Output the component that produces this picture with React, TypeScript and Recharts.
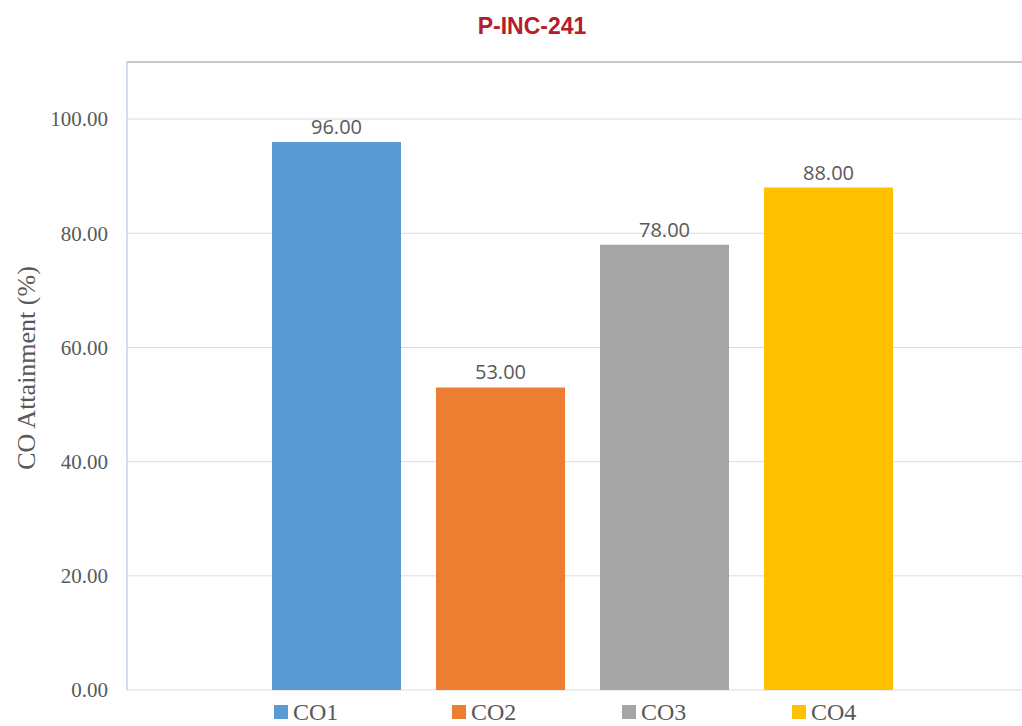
import React from "react";
import {
  BarChart,
  Bar,
  XAxis,
  YAxis,
  CartesianGrid,
  ReferenceLine,
  LabelList,
  Label,
} from "recharts";

const seriesNames = ["CO1", "CO2", "CO3", "CO4"];
const seriesValues = [96, 53, 78, 88];
const seriesColors = ["#5B9BD5", "#ED7D31", "#A5A5A5", "#FFC000"];
const yTicks = [0, 20, 40, 60, 80, 100];
const yMax = 110;
const yTitle = "CO Attainment (%)";

const row: Record<string, number | string> = { name: "" };
seriesNames.forEach((n, i) => {
  row[n] = seriesValues[i];
});
const data = [row];

const SerifTick = (props: any) => {
  const { x, y, payload } = props;
  return (
    <text
      x={x}
      y={y}
      textAnchor="end"
      dy="0.35em"
      style={{
        fill: "#595959",
        fontFamily: "'Liberation Serif', serif",
        fontSize: 21,
      }}
    >
      {Number(payload.value).toFixed(2)}
    </text>
  );
};

// rotated axis title, a little above the plot's middle like the original
const YTitle = (props: any) => {
  const vb = props.viewBox || {};
  const cx = vb.x + 26;
  const cy = vb.y + vb.height / 2 - 8;
  return (
    <text
      x={cx}
      y={cy}
      transform={`rotate(-90, ${cx}, ${cy})`}
      textAnchor="middle"
      dominantBaseline="central"
      style={{
        fill: "#595959",
        fontFamily: "'Liberation Serif', serif",
        fontSize: 26,
      }}
    >
      {yTitle}
    </text>
  );
};

export default function App() {
  return (
    <div
      style={{
        position: "fixed",
        left: 0,
        top: 0,
        width: 1022,
        height: 726,
        overflow: "hidden",
        background: "#ffffff",
      }}
    >
      <div
        style={{
          position: "absolute",
          left: 0,
          top: 15,
          width: 1064,
          textAlign: "center",
          fontFamily: "'Liberation Sans', Arial, sans-serif",
          fontWeight: "bold",
          fontSize: 23,
          lineHeight: "23px",
          color: "#B3202A",
        }}
      >
        P-INC-241
      </div>
      <div style={{ position: "absolute", left: 0, top: 0 }}>
        <BarChart
          width={1060}
          height={726}
          data={data}
          margin={{ top: 62, right: 23, left: 0, bottom: 36 }}
          barSize={129}
          barGap={35}
        >
          <CartesianGrid vertical={false} stroke="#DCDCDC" />
          <ReferenceLine y={yMax} stroke="#B4BCC6" strokeWidth={1.5} />
          <XAxis
            dataKey="name"
            height={0}
            tick={false}
            tickLine={false}
            axisLine={{ stroke: "#A9B9CE" }}
          />
          <YAxis
            width={127}
            domain={[0, yMax]}
            ticks={yTicks}
            tickLine={false}
            tickMargin={13}
            axisLine={{ stroke: "#A7BFDA" }}
            tick={(p: any) => <SerifTick {...p} />}
          >
            <Label content={(p: any) => <YTitle {...p} />} />
          </YAxis>
          {seriesNames.map((n, i) => (
            <Bar
              key={n}
              dataKey={n}
              fill={seriesColors[i]}
              isAnimationActive={false}
            >
              <LabelList
                dataKey={n}
                position="top"
                offset={8}
                formatter={(v: any) => Number(v).toFixed(2)}
                style={{
                  fill: "#595959",
                  fontFamily: "'Open Sans', sans-serif",
                  fontSize: 20,
                }}
              />
            </Bar>
          ))}
        </BarChart>
      </div>
      <div
        style={{
          position: "absolute",
          left: 274,
          top: 700,
          display: "flex",
          height: 24,
        }}
      >
        {seriesNames.map((n, i) => (
          <div
            key={n}
            style={{
              width: i === 0 ? 178 : 170,
              display: "flex",
              alignItems: "center",
              height: 24,
            }}
          >
            <span
              style={{
                width: 14,
                height: 14,
                background: seriesColors[i],
                marginRight: 5,
                display: "inline-block",
              }}
            />
            <span
              style={{
                fontFamily: "'Liberation Serif', serif",
                fontSize: 24,
                lineHeight: "24px",
                color: "#595959",
              }}
            >
              {n}
            </span>
          </div>
        ))}
      </div>
    </div>
  );
}
